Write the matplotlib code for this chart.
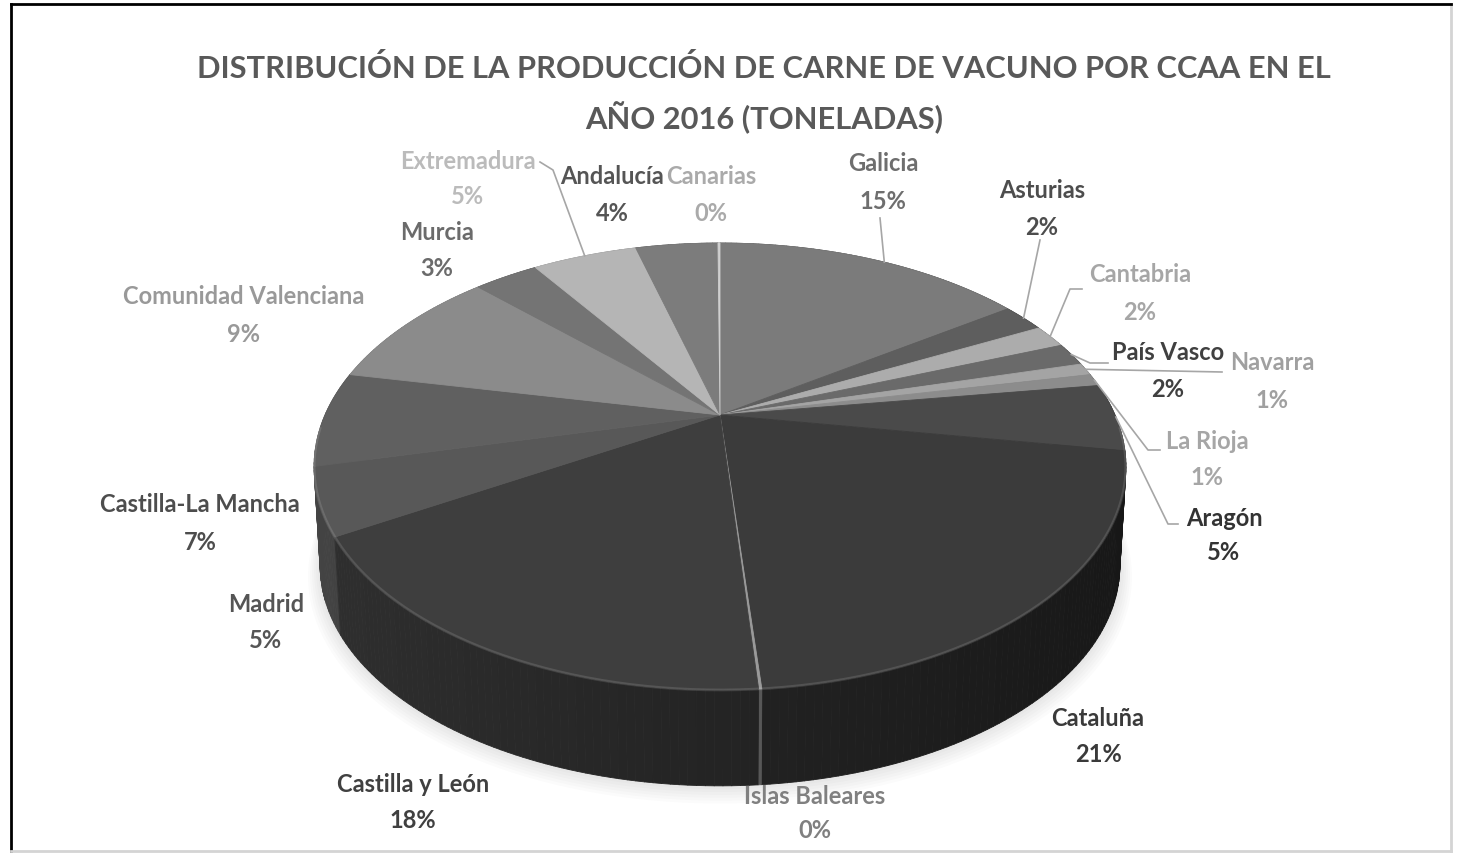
import matplotlib.pyplot as plt
import numpy as np
from matplotlib.collections import PolyCollection
from matplotlib.patches import Polygon

# datos (porcentaje aproximado de cada CCAA, en orden horario desde arriba)
regiones = ['Galicia', 'Asturias', 'Cantabria', 'País Vasco', 'Navarra', 'La Rioja',
            'Aragón', 'Cataluña', 'Islas Baleares', 'Castilla y León', 'Madrid',
            'Castilla-La Mancha', 'Comunidad Valenciana', 'Murcia', 'Extremadura',
            'Andalucía', 'Canarias']
porcentaje = [15.4, 2.1, 1.7, 1.7, 0.9, 0.9, 4.9, 21.1, 0.1, 17.7, 4.8, 6.9, 9.2,
              3.2, 5.2, 4.1, 0.1]

# estilo
colores = ['#7b7b7b', '#5e5e5e', '#acacac', '#6a6a6a', '#a4a4a4', '#8c8c8c', '#4a4a4a',
           '#3b3b3b', '#9a9a9a', '#3e3e3e', '#585858', '#606060', '#8b8b8b', '#747474',
           '#b5b5b5', '#7c7c7c', '#cfcfcf']
col_texto = ['#6e6e6e', '#4d4d4d', '#a6a6a6', '#404040', '#a0a0a0', '#a6a6a6', '#333333',
             '#3a3a3a', '#808080', '#404040', '#555555', '#4d4d4d', '#999999', '#6b6b6b',
             '#bbbbbb', '#555555', '#aaaaaa']

# posiciones de etiquetas (x, y nombre, y porcentaje) en pixeles
pos_etiq = [(883, 163, 201), (1042, 190, 227), (1140, 275, 313), (1168, 352, 389),
            (1272, 362, 400), (1207, 441, 477), (1224, 518, 552), (1098, 719, 755),
            (815, 797, 831), (413, 785, 821), (266, 605, 641), (200, 505, 543),
            (244, 297, 335), (437, 232, 268), (468, 161, 196), (612, 176, 213),
            (711, 176, 213)]
# lineas guia: puntos cerca de la etiqueta, el ultimo punto va al borde del sector
guias = {0: [(880, 218)], 1: [(1040, 240)], 2: [(1082, 289), (1070, 289)],
         3: [(1108, 363), (1090, 363)], 4: [(1222, 372)], 5: [(1160, 450), (1148, 450)],
         6: [(1178, 524), (1168, 524)], 14: [(540, 162), (553, 170)]}
# fraccion del sector donde termina la guia
frac_guia = {0: 0.54}

W, H = 1468, 856
fig = plt.figure(figsize=(W / 100, H / 100), dpi=100)

marco = fig.add_axes([11 / W, 1 - 851 / H, 1440 / W, 847 / H])
marco.set_xticks([])
marco.set_yticks([])
marco.spines['left'].set_color('black')
marco.spines['top'].set_color('black')
marco.spines['right'].set_color('#d4d4d4')
marco.spines['bottom'].set_color('#d4d4d4')
for s in marco.spines.values():
    s.set_linewidth(2)

ax = fig.add_axes([0, 0, 1, 1])
ax.set_xlim(0, W)
ax.set_ylim(H, 0)
ax.axis('off')
ax.patch.set_alpha(0)

# proyeccion en perspectiva del disco
cx, cy = 720, 415
rx, ry = 395, 211.6
k = 0.2305
grosor = 100


def proyectar(theta, esc=1.0, dy=0.0):
    u = np.cos(theta)
    v = np.sin(theta)
    w = 1 + k * v
    return cx + esc * rx * u / w, cy - esc * ry * v / w + dy


def gris(c, f):
    c = c.lstrip('#')
    return tuple(min(1, int(c[i:i + 2], 16) / 255 * f) for i in (0, 2, 4))


vals = np.array(porcentaje) / sum(porcentaje)
fin = np.cumsum(vals)
ini = fin - vals
t0 = np.pi / 2 - 2 * np.pi * ini
t1 = np.pi / 2 - 2 * np.pi * fin

# sombra suave
th = np.linspace(0, 2 * np.pi, 200)
for i in range(6):
    x, y = proyectar(th, 0.99 + i * 0.005, grosor + 2 + i * 1.5)
    ax.fill(x, y, color='black', alpha=0.015, lw=0, zorder=1)

# laterales
quads, caras, prof = [], [], []
for i in range(len(vals)):
    n = max(2, int(abs(t1[i] - t0[i]) * 180 / np.pi) + 2)
    th = np.linspace(t0[i], t1[i], n)
    xa, ya = proyectar(th)
    xb, yb = proyectar(th, 0.985, grosor)
    for j in range(n - 1):
        quads.append([(xa[j], ya[j]), (xa[j + 1], ya[j + 1]),
                      (xb[j + 1], yb[j + 1]), (xb[j], yb[j])])
        tm = (th[j] + th[j + 1]) / 2
        caras.append(gris(colores[i], 0.58 - 0.2 * np.cos(tm)))
        prof.append(np.sin(tm))
orden = np.argsort(prof)[::-1]
ax.add_collection(PolyCollection([quads[o] for o in orden],
                                 facecolors=[caras[o] for o in orden],
                                 edgecolors=[caras[o] for o in orden],
                                 linewidths=0.6, zorder=2))

# cara superior
for i in range(len(vals)):
    n = max(3, int(abs(t1[i] - t0[i]) * 180 / np.pi) + 3)
    th = np.linspace(t0[i], t1[i], n)
    x, y = proyectar(th)
    pts = [(cx, cy)] + list(zip(x, y))
    ax.add_patch(Polygon(pts, closed=True, facecolor=colores[i], edgecolor=colores[i],
                         lw=0.6, zorder=3))

# brillo del borde frontal
th = np.linspace(np.pi * 1.02, np.pi * 1.98, 200)
x, y = proyectar(th)
ax.plot(x, y, color='white', alpha=0.12, lw=2, zorder=4)

# etiquetas
fuente = ['Lato', 'DejaVu Sans']
for i, nombre in enumerate(regiones):
    x, yn, yp = pos_etiq[i]
    pct = '{:.0f}%'.format(vals[i] * 100)
    ax.text(x, yn, nombre, ha='center', va='center', fontsize=17, fontweight='bold',
            color=col_texto[i], family=fuente, zorder=6)
    ax.text(x, yp, pct, ha='center', va='center', fontsize=17, fontweight='bold',
            color=col_texto[i], family=fuente, zorder=6)
    if i in guias:
        f = frac_guia.get(i, 0.5)
        tm = t0[i] + f * (t1[i] - t0[i])
        ex, ey = proyectar(tm)
        pts = guias[i] + [(ex, ey)]
        ax.plot([p[0] for p in pts], [p[1] for p in pts], color='#a6a6a6', lw=1.2,
                zorder=5)

ax.text(764, 68, 'DISTRIBUCIÓN DE LA PRODUCCIÓN DE CARNE DE VACUNO POR CCAA EN EL',
        ha='center', va='center', fontsize=22.2, fontweight='bold', color='#595959',
        family=fuente)
ax.text(764, 118, 'AÑO 2016 (TONELADAS)', ha='center', va='center', fontsize=22.2,
        fontweight='bold', color='#595959', family=fuente)

fig.savefig('out.png', dpi=100)
